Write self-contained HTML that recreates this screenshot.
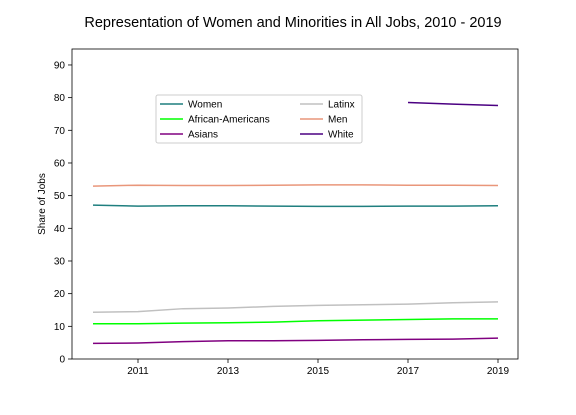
<!DOCTYPE html>
<html><head><meta charset="utf-8"><style>
body{margin:0;background:#fff;}
svg text{font-family:"Liberation Sans",sans-serif;fill:#000;}
</style></head><body>
<svg width="576" height="410">
<text x="293" y="27" font-size="14.5" text-anchor="middle">Representation of Women and Minorities in All Jobs, 2010 - 2019</text>
<g id="axes"></g>
<g id="series"></g>
<rect x="72" y="49" width="446" height="310" fill="none" stroke="#000" stroke-width="0.8"/>
<text transform="translate(45,204) rotate(-90)" font-size="10" text-anchor="middle">Share of Jobs</text>
<g id="legend"></g>
</svg>
<script>
const years=[2010,2011,2012,2013,2014,2015,2016,2017,2018,2019];
const women=[47.1,46.8,46.9,46.9,46.8,46.7,46.7,46.8,46.8,46.9];
const men=[52.9,53.2,53.1,53.1,53.2,53.3,53.3,53.2,53.2,53.1];
const latinx=[14.3,14.5,15.4,15.6,16.1,16.4,16.6,16.8,17.2,17.5];
const africanAmericans=[10.8,10.8,11.0,11.1,11.3,11.7,11.9,12.1,12.3,12.3];
const asians=[4.8,4.9,5.3,5.6,5.6,5.7,5.9,6.0,6.1,6.4];
const whiteYears=[2017,2018,2019];
const white=[78.5,78.0,77.6];
const yTicks=[0,10,20,30,40,50,60,70,80,90];
const xTicks=[2011,2013,2015,2017,2019];
const NS="http://www.w3.org/2000/svg";
const xs=y=>93+(y-2010)*45;
const ys=v=>359-v*32.67/10;
function mk(t,a,p){const e=document.createElementNS(NS,t);for(const k in a)e.setAttribute(k,a[k]);p.appendChild(e);return e;}
const ax=document.getElementById('axes');
yTicks.forEach(v=>{
 const l=mk('line',{x1:68,x2:72,y1:ys(v),y2:ys(v),stroke:'#000','stroke-width':0.8},ax);
 
 
 const t=mk('text',{x:65,y:ys(v)+3.5,'font-size':10,'text-anchor':'end'},ax);t.textContent=v;
 
 
});
xTicks.forEach(v=>{
 const l=mk('line',{x1:xs(v),x2:xs(v),y1:359,y2:363,stroke:'#000','stroke-width':0.8},ax);
 
 
 const t=mk('text',{x:xs(v),y:374,'font-size':10,'text-anchor':'middle'},ax);t.textContent=v;
 
 
});
const sg=document.getElementById('series');
function line(xv,yv,c,name){
 const p=mk('polyline',{points:xv.map((x,i)=>xs(x)+','+ys(yv[i])).join(' '),fill:'none',stroke:c,'stroke-width':1.5},sg);
 
 
}
line(years,women,'#1f7f7f','women-line');
line(years,africanAmericans,'#00ff00','african-americans-line');
line(years,asians,'#800080','asians-line');
line(years,latinx,'#c0c0c0','latinx-line');
line(years,men,'#e9967a','men-line');
line(whiteYears,white,'#4b0082','white-line');
const lg=document.getElementById('legend');
const box=mk('rect',{x:156,y:95,width:206,height:48,fill:'#fff',stroke:'#ccc',rx:2},lg);


const entries=[['Women','#1f7f7f',0,0],['African-Americans','#00ff00',0,1],['Asians','#800080',0,2],['Latinx','#c0c0c0',1,0],['Men','#e9967a',1,1],['White','#4b0082',1,2]];
entries.forEach(e=>{
 const x0=e[2]?300:160,y0=104+e[3]*15;
 const g=mk('g',{},lg);
 
 
 mk('line',{x1:x0,x2:x0+23,y1:y0,y2:y0,stroke:e[1],'stroke-width':1.5},g);
 const t=mk('text',{x:x0+28,y:y0+3.5,'font-size':10},g);t.textContent=e[0];
});
</script>
</body></html>
